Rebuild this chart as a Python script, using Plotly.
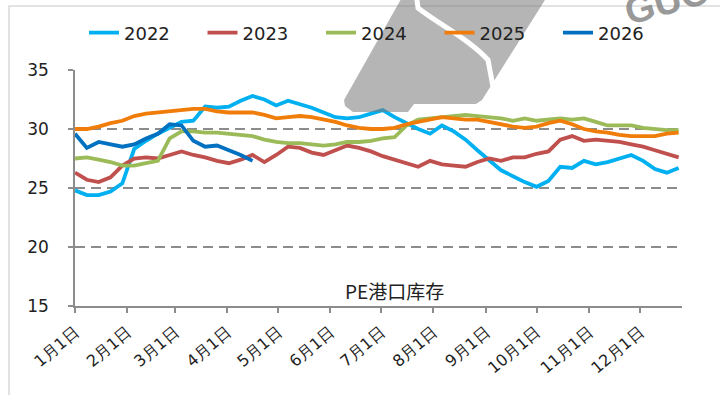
import plotly.graph_objects as go

# Weekly readings, x = day of year (Jan 1 = 0)
week_day = [7 * k for k in range(52)]

years = ["2022", "2023", "2024", "2025", "2026"]

s2022 = [24.8, 24.4, 24.4, 24.7, 25.4, 28.3, 29.0, 29.6, 30.1, 30.6,
         30.7, 31.9, 31.8, 31.9, 32.4, 32.8, 32.5, 32.0, 32.4, 32.1,
         31.8, 31.4, 31.0, 30.9, 31.0, 31.3, 31.6, 31.0, 30.5, 30.0,
         29.6, 30.3, 29.8, 29.1, 28.2, 27.3, 26.5, 26.0, 25.5, 25.1,
         25.6, 26.8, 26.7, 27.3, 27.0, 27.2, 27.5, 27.8, 27.3, 26.6,
         26.3, 26.7]
s2023 = [26.3, 25.7, 25.5, 25.9, 26.9, 27.5, 27.6, 27.5, 27.8, 28.1,
         27.8, 27.6, 27.3, 27.1, 27.4, 27.8, 27.2, 27.8, 28.5, 28.4,
         28.0, 27.8, 28.2, 28.6, 28.4, 28.1, 27.7, 27.4, 27.1, 26.8,
         27.3, 27.0, 26.9, 26.8, 27.2, 27.5, 27.3, 27.6, 27.6, 27.9,
         28.1, 29.1, 29.4, 29.0, 29.1, 29.0, 28.9, 28.7, 28.5, 28.2,
         27.9, 27.6]
s2024 = [27.5, 27.6, 27.4, 27.2, 26.9, 26.9, 27.1, 27.3, 29.2, 29.8,
         29.8, 29.7, 29.7, 29.6, 29.5, 29.4, 29.1, 28.9, 28.8, 28.8,
         28.7, 28.6, 28.7, 28.9, 28.9, 29.0, 29.2, 29.3, 30.3, 30.8,
         30.9, 31.0, 31.1, 31.2, 31.1, 31.0, 30.9, 30.7, 30.9, 30.7,
         30.8, 30.9, 30.8, 30.9, 30.6, 30.3, 30.3, 30.3, 30.1, 30.0,
         29.9, 29.9]
s2025 = [30.0, 30.0, 30.2, 30.5, 30.7, 31.1, 31.3, 31.4, 31.5, 31.6,
         31.7, 31.7, 31.5, 31.4, 31.4, 31.4, 31.2, 30.9, 31.0, 31.1,
         31.0, 30.8, 30.6, 30.3, 30.1, 30.0, 30.0, 30.1, 30.4, 30.6,
         30.8, 31.0, 30.9, 30.8, 30.8, 30.6, 30.4, 30.2, 30.1, 30.2,
         30.5, 30.7, 30.4, 30.0, 29.8, 29.7, 29.5, 29.4, 29.4, 29.4,
         29.6, 29.7]
s2026 = [29.6, 28.4, 28.9, 28.7, 28.5, 28.7, 29.2, 29.6, 30.4, 30.3,
         29.0, 28.5, 28.6, 28.2, 27.8, 27.3]

series = [s2022, s2023, s2024, s2025, s2026]
colors = ["#00B0F0", "#C0504D", "#9BBB59", "#F07D0A", "#0070C0"]

month_day = [0, 31, 59, 90, 120, 151, 181, 212, 243, 273, 304, 334]
month_labels = ["1月1日", "2月1日", "3月1日", "4月1日", "5月1日", "6月1日",
                "7月1日", "8月1日", "9月1日", "10月1日", "11月1日", "12月1日"]

title_text = "PE港口库存"

# plot area in pixels: x 75..682, y 70..306
L, R, T, B = 75, 682, 70, 306


def px(x):
    return (x - L) / (R - L)


def py(y):
    return (B - y) / (B - T)


axis_gray = "#8C8C8C"
text_col = "#222222"

fig = go.Figure()
legend_ids = ["legend", "legend2", "legend3", "legend4", "legend5"]
for i, (name, vals, col) in enumerate(zip(years, series, colors)):
    fig.add_trace(go.Scatter(
        x=week_day[:len(vals)], y=vals, name=name, mode="lines",
        line=dict(color=col, width=3.8), hoverinfo="skip",
        legend=legend_ids[i],
    ))

# one legend box per year, laid out in a single row
legend_boxes = {}
for i, lid in enumerate(legend_ids):
    legend_boxes[lid] = dict(
        orientation="h", x=px(84 + 118.5 * i), xanchor="left",
        y=py(33), yanchor="middle",
        font=dict(size=18, family="DejaVu Sans", color=text_col),
        bgcolor="rgba(0,0,0,0)", borderwidth=0,
    )

fig.update_layout(
    width=720, height=395,
    margin=dict(l=L, r=720 - R, t=T, b=395 - B),
    paper_bgcolor="white", plot_bgcolor="white",
    font=dict(family="DejaVu Sans", color=text_col),
    showlegend=True,
    xaxis=dict(
        range=[0, 359], tickmode="array", tickvals=month_day, ticktext=month_labels,
        tickangle=-40, tickfont=dict(size=16, color=text_col),
        showgrid=False, zeroline=False, showline=True, linecolor=axis_gray,
        linewidth=1.5, ticks="outside", ticklen=5, tickcolor=axis_gray, tickwidth=1.5,
        ticklabelstandoff=4,
    ),
    yaxis=dict(
        range=[15, 35], tick0=15, dtick=5, tickfont=dict(size=17, color=text_col),
        showgrid=True, gridcolor=axis_gray, gridwidth=1.5, griddash="10px,6px",
        zeroline=False, showline=True, linecolor=axis_gray, linewidth=1.5,
        ticks="outside", ticklen=5, tickcolor=axis_gray, tickwidth=1.5,
        ticklabelstandoff=16,
    ),
    **legend_boxes,
)

fig.add_annotation(
    x=px(394), y=py(290), xref="paper", yref="paper", text=title_text,
    showarrow=False, xanchor="center", yanchor="middle",
    font=dict(size=19, family="Noto Sans CJK SC", color=text_col),
)

# outer frame
fig.add_shape(type="rect", xref="paper", yref="paper",
              x0=px(9), x1=px(760), y0=py(430), y1=py(6),
              line=dict(color="#D9D9D9", width=1.5), fillcolor="rgba(0,0,0,0)",
              layer="below")

# logo overlay
logo_pts = [(405, -8), (550, -8), (482, 100), (476, 104), (414, 104),
            (408, 112), (353, 112), (345, 106), (344, 100)]
logo_path = "M " + " L ".join(f"{px(x):.4f},{py(y):.4f}" for x, y in logo_pts) + " Z"
fig.add_shape(type="path", xref="paper", yref="paper", path=logo_path,
              fillcolor="rgba(120,120,120,0.55)", line=dict(width=0), layer="above")
curve = [(416, -8), (418, 8), (440, 25), (470, 40), (488, 60), (494, 92)]
c = [(px(x), py(y)) for x, y in curve]
curve_path = (f"M {c[0][0]:.4f},{c[0][1]:.4f} L {c[1][0]:.4f},{c[1][1]:.4f} "
              f"C {c[2][0]:.4f},{c[2][1]:.4f} {c[3][0]:.4f},{c[3][1]:.4f} "
              f"{c[4][0]:.4f},{c[4][1]:.4f} L {c[5][0]:.4f},{c[5][1]:.4f}")
fig.add_shape(type="path", xref="paper", yref="paper", path=curve_path,
              line=dict(color="white", width=5), layer="above")

fig.add_annotation(
    x=px(667), y=py(1), xref="paper", yref="paper", text="<b>GUO</b>",
    showarrow=False, textangle=-16, xanchor="center", yanchor="middle",
    font=dict(size=38, family="Liberation Sans", color="rgba(120,120,120,0.75)"),
)

fig.write_html("out.html")
